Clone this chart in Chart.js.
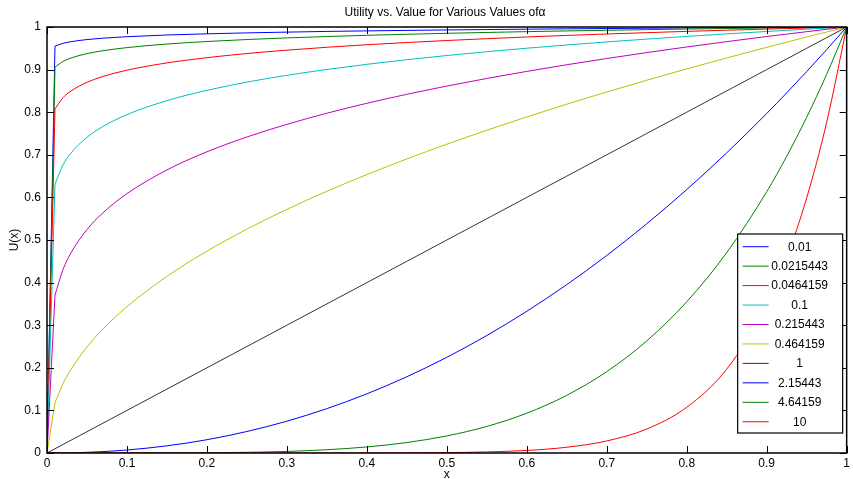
<!DOCTYPE html>
<html lang="en">
<head>
<meta charset="UTF-8">
<script src="https://cdn.jsdelivr.net/npm/chart.js"></script>
<style>
  html, body { margin: 0; padding: 0; background: #fff; }
  #wrap { width: 853px; height: 479px; position: relative; }
</style>
</head>
<body>
<div id="wrap"><canvas id="myChart" width="853" height="479"></canvas></div>
<script>
// x values
var xs = [0, 0.01, 0.02, 0.03, 0.05, 0.07, 0.1, 0.15, 0.2, 0.25, 0.3, 0.35, 0.4, 0.45, 0.5,
          0.55, 0.6, 0.65, 0.7, 0.75, 0.8, 0.85, 0.9, 0.925, 0.95, 0.975, 1];

var alphaLabels = ['0.01', '0.0215443', '0.0464159', '0.1', '0.215443', '0.464159', '1', '2.15443', '4.64159', '10'];

var u_001 = [0, 0.9550, 0.9616, 0.9655, 0.9705, 0.9738, 0.9772, 0.9812, 0.9840, 0.9862, 0.9880, 0.9896, 0.9909, 0.9920, 0.9931,
             0.9940, 0.9949, 0.9957, 0.9964, 0.9971, 0.9978, 0.9984, 0.9989, 0.9992, 0.9995, 0.9997, 1];
var u_00215 = [0, 0.9055, 0.9192, 0.9272, 0.9375, 0.9443, 0.9516, 0.9600, 0.9659, 0.9706, 0.9744, 0.9776, 0.9805, 0.9829, 0.9852,
               0.9872, 0.9891, 0.9908, 0.9923, 0.9938, 0.9952, 0.9965, 0.9977, 0.9983, 0.9989, 0.9995, 1];
var u_00464 = [0, 0.8076, 0.8340, 0.8498, 0.8702, 0.8839, 0.8986, 0.9157, 0.9280, 0.9377, 0.9456, 0.9524, 0.9584, 0.9636, 0.9683,
               0.9726, 0.9766, 0.9802, 0.9836, 0.9867, 0.9897, 0.9925, 0.9951, 0.9964, 0.9976, 0.9988, 1];
var u_01 = [0, 0.6310, 0.6762, 0.7042, 0.7411, 0.7665, 0.7943, 0.8272, 0.8513, 0.8706, 0.8866, 0.9003, 0.9124, 0.9233, 0.9330,
            0.9420, 0.9502, 0.9578, 0.9650, 0.9716, 0.9779, 0.9839, 0.9895, 0.9922, 0.9949, 0.9975, 1];
var u_0215 = [0, 0.3708, 0.4305, 0.4698, 0.5245, 0.5639, 0.6089, 0.6645, 0.7070, 0.7418, 0.7715, 0.7976, 0.8209, 0.8420, 0.8613,
              0.8792, 0.8958, 0.9114, 0.9260, 0.9399, 0.9531, 0.9656, 0.9776, 0.9833, 0.9890, 0.9946, 1];
var u_0464 = [0, 0.1179, 0.1627, 0.1964, 0.2489, 0.2911, 0.3434, 0.4146, 0.4738, 0.5255, 0.5719, 0.6143, 0.6536, 0.6903, 0.7249,
              0.7577, 0.7889, 0.8188, 0.8475, 0.8750, 0.9016, 0.9273, 0.9523, 0.9645, 0.9765, 0.9883, 1];
var u_1 = [0, 0.01, 0.02, 0.03, 0.05, 0.07, 0.1, 0.15, 0.2, 0.25, 0.3, 0.35, 0.4, 0.45, 0.5,
           0.55, 0.6, 0.65, 0.7, 0.75, 0.8, 0.85, 0.9, 0.925, 0.95, 0.975, 1];
var u_215 = [0, 0.00005, 0.0002, 0.0005, 0.0016, 0.0033, 0.0070, 0.0168, 0.0312, 0.0505, 0.0747, 0.1042, 0.1389, 0.1790, 0.2246,
             0.2758, 0.3327, 0.3953, 0.4637, 0.5381, 0.6183, 0.7046, 0.7969, 0.8454, 0.8954, 0.9469, 1];
var u_464 = [0, 0, 0, 0, 0, 0, 0.00002, 0.00015, 0.0006, 0.0016, 0.0037, 0.0077, 0.0142, 0.0246, 0.0401,
             0.0624, 0.0934, 0.1354, 0.1910, 0.2631, 0.3550, 0.4703, 0.6132, 0.6964, 0.7881, 0.8891, 1];
var u_10 = [0, 0, 0, 0, 0, 0, 0, 0, 0, 0, 0, 0, 0.0001, 0.0003, 0.0010,
            0.0025, 0.0060, 0.0135, 0.0283, 0.0563, 0.1074, 0.1969, 0.3487, 0.4586, 0.5987, 0.7763, 1];

var series = [u_001, u_00215, u_00464, u_01, u_0215, u_0464, u_1, u_215, u_464, u_10];
var colors = ['#0000ff', '#008000', '#ff0000', '#00bfbf', '#bf00bf', '#bfbf00', '#333333', '#0000ff', '#008000', '#ff0000'];

var FONT = "'Liberation Sans', Arial, Helvetica, sans-serif";

function pts(vals, from, to) {
    var out = [];
    for (var j = from; j < to; j++) out.push({ x: xs[j], y: vals[j] });
    return out;
}

// each curve: straight first sample step (0 -> 0.01), then a smooth curve from 0.01 on
var datasets = [];
series.forEach(function (vals, i) {
    datasets.push({
        label: alphaLabels[i],
        data: pts(vals, 1, vals.length),
        borderColor: colors[i],
        borderWidth: 1,
        pointRadius: 0,
        fill: false,
        cubicInterpolationMode: 'monotone',
        order: series.length - i
    });
    datasets.push({
        label: alphaLabels[i],
        stem: true,
        data: pts(vals, 0, 2),
        borderColor: colors[i],
        borderWidth: 1,
        pointRadius: 0,
        fill: false,
        tension: 0,
        order: series.length - i
    });
});

// MATLAB style: ticks pointing inwards on all four sides, black box, title, legend box
var matlabAxes = {
    id: 'matlabAxes',
    afterDatasetsDraw: function (chart) {
        var ctx = chart.ctx, a = chart.chartArea, sx = chart.scales.x, sy = chart.scales.y;
        ctx.save();
        ctx.strokeStyle = '#000';
        ctx.lineWidth = 1;
        ctx.beginPath();
        sx.ticks.forEach(function (t) {
            var px = Math.round(sx.getPixelForValue(t.value)) + 0.5;
            ctx.moveTo(px, a.bottom); ctx.lineTo(px, a.bottom - 7);
            ctx.moveTo(px, a.top); ctx.lineTo(px, a.top + 7);
        });
        sy.ticks.forEach(function (t) {
            var py = Math.round(sy.getPixelForValue(t.value)) + 0.5;
            ctx.moveTo(a.left, py); ctx.lineTo(a.left + 7, py);
            ctx.moveTo(a.right, py); ctx.lineTo(a.right - 7, py);
        });
        ctx.stroke();
        ctx.lineWidth = 1.5;
        ctx.strokeRect(a.left, a.top, a.right - a.left, a.bottom - a.top);

        // legend
        var bw = 105, bh = 199;
        var bx = a.right - 4 - bw, by = 234;
        ctx.fillStyle = '#fff';
        ctx.fillRect(bx, by, bw, bh);
        ctx.lineWidth = 1.2;
        ctx.strokeRect(bx, by, bw, bh);
        ctx.font = '12px ' + FONT;
        ctx.textAlign = 'center';
        ctx.textBaseline = 'middle';
        chart.data.datasets.filter(function (ds) { return !ds.stem; }).forEach(function (ds, i) {
            var ry = by + 12.7 + i * 19.45;
            ctx.strokeStyle = ds.borderColor;
            ctx.lineWidth = 1;
            ctx.beginPath();
            ctx.moveTo(bx + 5, ry); ctx.lineTo(bx + 31, ry);
            ctx.stroke();
            ctx.fillStyle = '#000';
            ctx.fillText(ds.label, bx + 62, ry + 0.5);
        });

        // title
        ctx.font = '12px ' + FONT;
        ctx.fillStyle = '#000';
        ctx.textAlign = 'center';
        ctx.fillText('Utility vs. Value for Various Values of\u03b1', 445, 12.5);
        ctx.restore();
    }
};

var ctx = document.getElementById('myChart').getContext('2d');
var myChart = new Chart(ctx, {
    type: 'line',
    data: { datasets: datasets },
    options: {
        responsive: false,
        animation: false,
        layout: { padding: { top: 27, right: 4, left: 0, bottom: 0 } },
        plugins: {
            legend: { display: false },
            title: { display: false },
            tooltip: { enabled: false }
        },
        scales: {
            x: {
                type: 'linear',
                min: 0, max: 1,
                afterFit: function (s) { s.height = 26; },
                border: { display: false },
                grid: { display: false, drawTicks: false },
                ticks: {
                    stepSize: 0.1,
                    padding: 3,
                    color: '#000',
                    font: { family: FONT, size: 12 },
                    maxRotation: 0,
                    callback: function (v) { return +v.toFixed(1); }
                },
                title: {
                    display: true, text: 'x', color: '#000',
                    font: { family: FONT, size: 12, lineHeight: 1 },
                    padding: { top: 0, bottom: -2 }
                }
            },
            y: {
                min: 0, max: 1,
                afterFit: function (s) { s.width = 47; },
                border: { display: false },
                grid: { display: false, drawTicks: false },
                ticks: {
                    stepSize: 0.1,
                    padding: 6,
                    color: '#000',
                    font: { family: FONT, size: 12 },
                    callback: function (v) { return +v.toFixed(1); }
                },
                title: {
                    display: true, text: 'U(x)', color: '#000',
                    font: { family: FONT, size: 12, lineHeight: 1 },
                    padding: { top: 9, bottom: 0 }
                }
            }
        }
    },
    plugins: [matlabAxes]
});
</script>
</body>
</html>
